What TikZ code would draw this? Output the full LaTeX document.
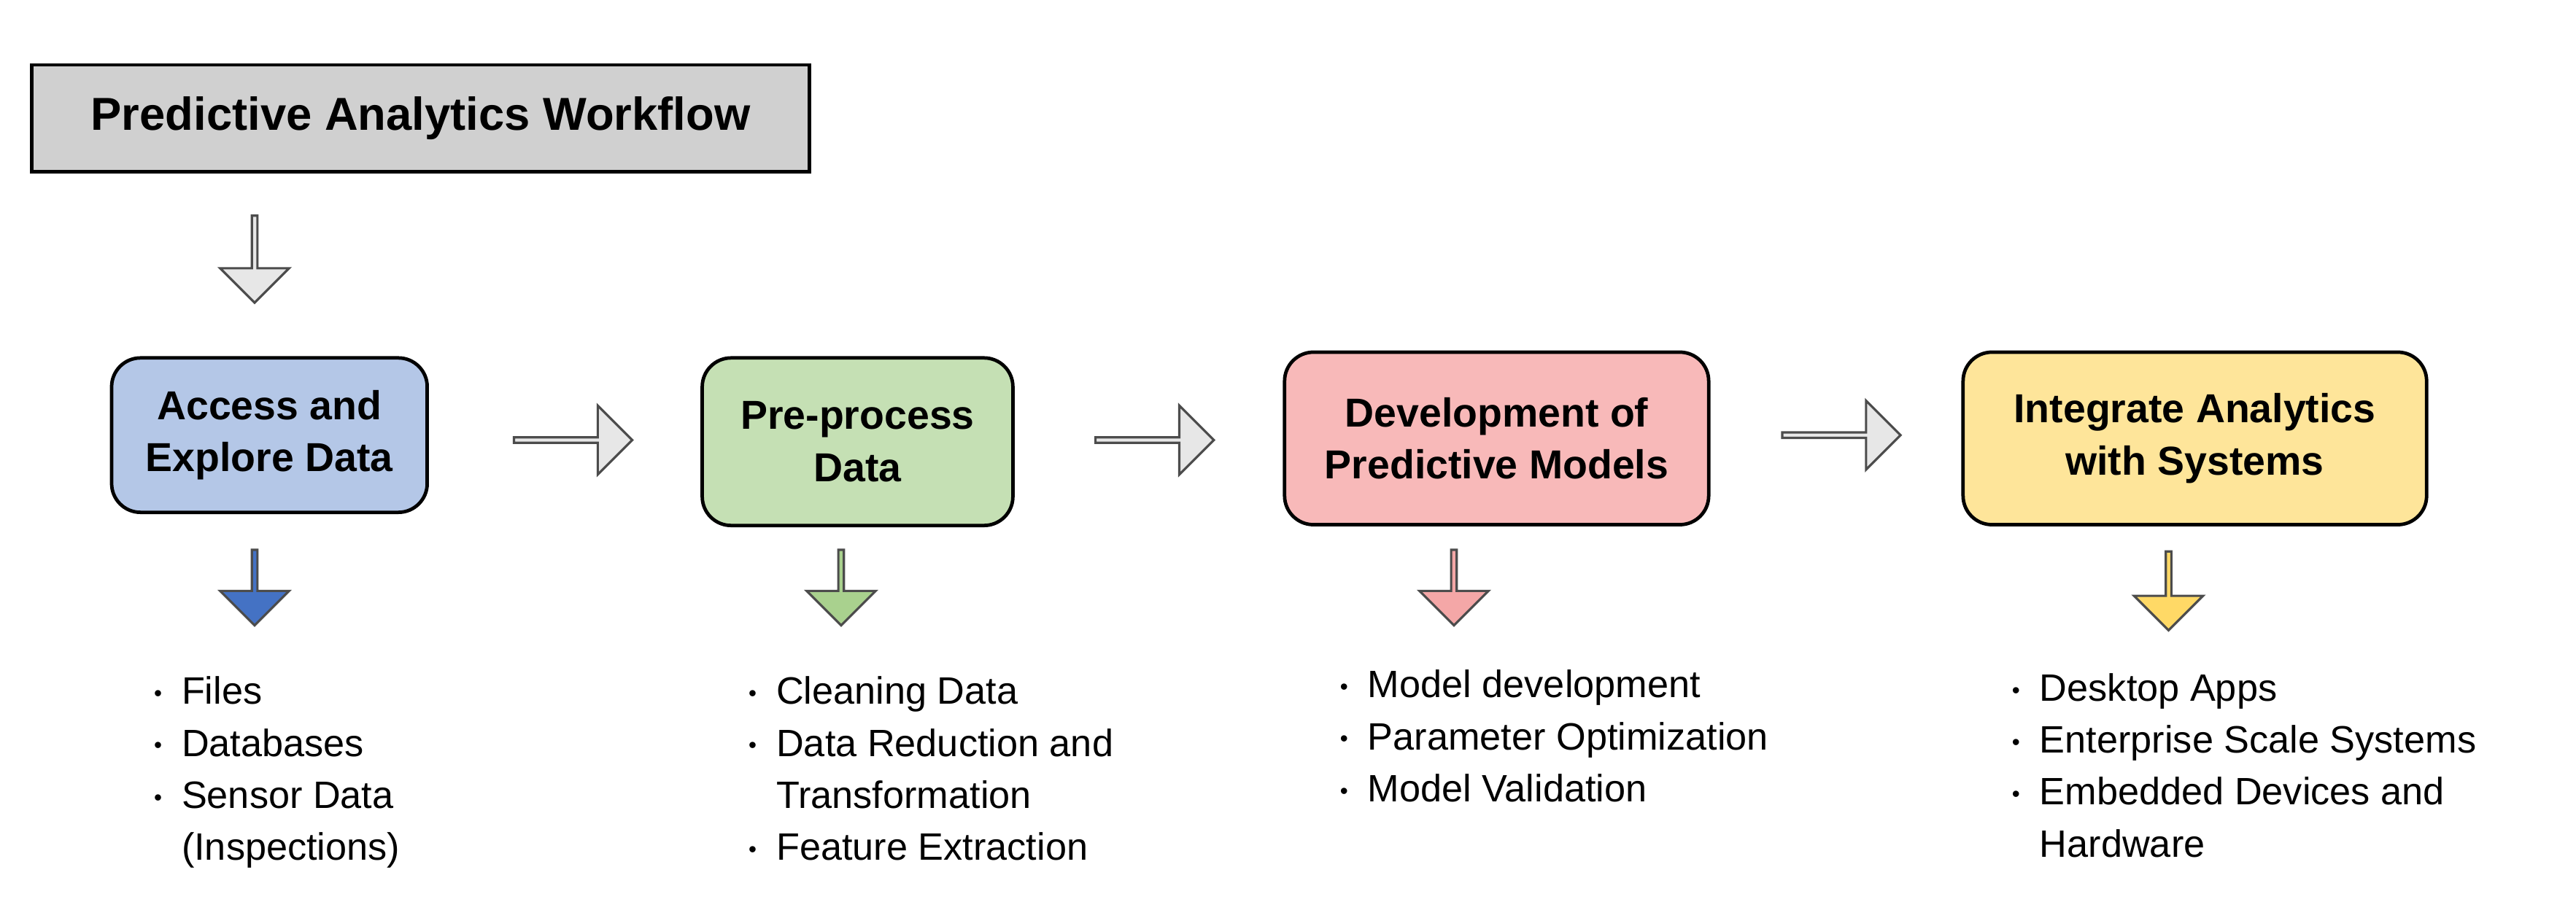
\documentclass[tikz,border=0pt]{standalone}
\usepackage{fontspec}
\setmainfont{Liberation Sans}
\usetikzlibrary{shapes.arrows}
\definecolor{boxgray}{HTML}{D0D0D0}
\definecolor{accessfill}{HTML}{B4C7E7}
\definecolor{prepfill}{HTML}{C5E0B4}
\definecolor{modelfill}{HTML}{F8B9B9}
\definecolor{integfill}{HTML}{FEE59A}
\definecolor{accessarr}{HTML}{4472C4}
\definecolor{preparr}{HTML}{A9D18E}
\definecolor{modelarr}{HTML}{F4A7A7}
\definecolor{integarr}{HTML}{FFD966}
\tikzset{
  stage/.style={draw=black,line width=0.6pt,rounded corners=5pt,align=center,
    font=\fontsize{7pt}{9pt}\selectfont\bfseries},
  blockarrow/.style={single arrow,draw=black!70,line width=0.4pt,minimum height=0.72cm,
    minimum width=0.42cm,single arrow head extend=0.08cm,inner sep=0pt},
  items/.style={anchor=north west,inner sep=0pt,font=\fontsize{6.6pt}{9pt}\selectfont}
}
\newcommand{\bul}{\raisebox{0.15ex}{\scalebox{0.6}{\textbullet}}}
\begin{document}
\begin{tikzpicture}[x=0.01cm,y=-0.01cm]
  \useasboundingbox (0,0) rectangle (1568,549);
  % title and stages
  \path (256,72) node[draw=black,line width=0.6pt,fill=boxgray,minimum width=4.73cm,minimum height=0.65cm,
      font=\fontsize{8pt}{10pt}\selectfont\bfseries] (title) {Predictive Analytics Workflow}
        (164,265) node[stage,fill=accessfill,minimum width=1.92cm,minimum height=0.94cm] (access) {Access and\\Explore Data}
        (522,269) node[stage,fill=prepfill,minimum width=1.89cm,minimum height=1.02cm] (prep) {Pre-process\\Data}
        (911,267) node[stage,fill=modelfill,minimum width=2.58cm,minimum height=1.05cm] (model) {Development of\\Predictive Models}
        (1336,267) node[stage,fill=integfill,minimum width=2.82cm,minimum height=1.05cm] (integ) {Integrate Analytics\\with Systems};
  % block arrows
  \node[blockarrow,fill=boxgray!50,rotate=-90,minimum height=0.53cm] (a0) at (155,157) {};
  \node[blockarrow,fill=boxgray!50] (a1) at (348,268) {};
  \node[blockarrow,fill=boxgray!50] (a2) at (702,268) {};
  \node[blockarrow,fill=boxgray!50] (a3) at (1120,265) {};
  \node[blockarrow,fill=accessarr,rotate=-90,minimum height=0.46cm] (d1) at (155,357) {};
  \node[blockarrow,fill=preparr,rotate=-90,minimum height=0.46cm] (d2) at (512,357) {};
  \node[blockarrow,fill=modelarr,rotate=-90,minimum height=0.46cm] (d3) at (885,357) {};
  \node[blockarrow,fill=integarr,rotate=-90,minimum height=0.48cm] (d4) at (1320,359) {};
  % lists
  \node[items] (l1) at (93,406) {\begin{tabular}{@{}l@{\hspace{0.12cm}}l@{}}
    \bul & Files\\ \bul & Databases\\ \bul & Sensor Data\\ & (Inspections)\end{tabular}};
  \node[items] (l2) at (455,406) {\begin{tabular}{@{}l@{\hspace{0.12cm}}l@{}}
    \bul & Cleaning Data\\ \bul & Data Reduction and\\ & Transformation\\ \bul & Feature Extraction\end{tabular}};
  \node[items] (l3) at (815,402) {\begin{tabular}{@{}l@{\hspace{0.12cm}}l@{}}
    \bul & Model development\\ \bul & Parameter Optimization\\ \bul & Model Validation\end{tabular}};
  \node[items] (l4) at (1224,404) {\begin{tabular}{@{}l@{\hspace{0.12cm}}l@{}}
    \bul & Desktop Apps\\ \bul & Enterprise Scale Systems\\ \bul & Embedded Devices and\\ & Hardware\end{tabular}};
\end{tikzpicture}
\end{document}
